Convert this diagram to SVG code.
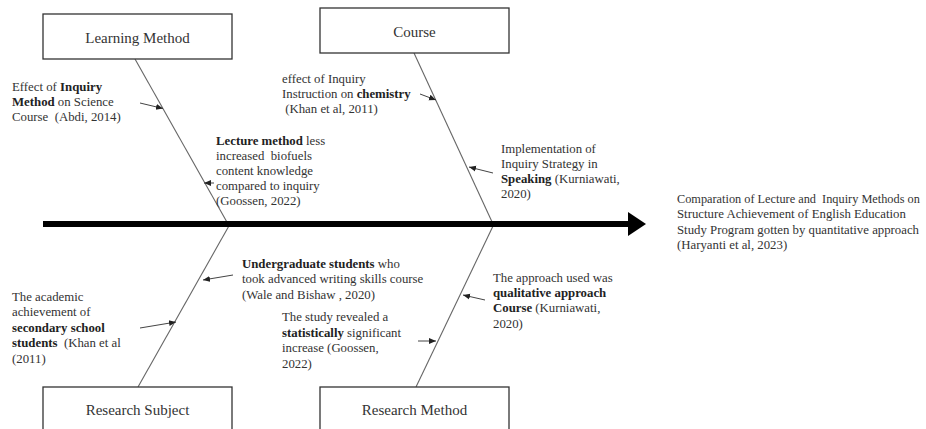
<svg xmlns="http://www.w3.org/2000/svg" width="926" height="429" viewBox="0 0 926 429" font-family="'Liberation Serif', 'DejaVu Serif', serif">
<style>
.box{fill:#fff;stroke:#333;stroke-width:1.3}
.lbl{font-family:'Liberation Serif','DejaVu Serif',serif;font-size:15px;fill:#333;text-anchor:middle}
.t{font-family:'Liberation Serif','DejaVu Serif',serif;font-size:12.8px;fill:#333}
.b{font-weight:bold;fill:#222}
.bone{stroke:#666;stroke-width:1.1;fill:none}
.ar{stroke:#444;stroke-width:1;fill:none;marker-end:url(#ah)}
</style>
<defs>
<marker id="ah" markerUnits="userSpaceOnUse" markerWidth="8" markerHeight="8" refX="7" refY="4" orient="auto">
<path d="M0,1 L7,4 L0,7 Z" fill="#222"/>
</marker>
</defs>
<rect width="926" height="429" fill="#fff"/>
<g id="connectors">
<line class="bone" x1="135" y1="59" x2="228" y2="224"/>
<line class="bone" x1="414" y1="53" x2="493" y2="224"/>
<line class="bone" x1="230" y1="224" x2="138" y2="387"/>
<line class="bone" x1="494" y1="224" x2="416" y2="387"/>
<line x1="43" y1="224" x2="630" y2="224" stroke="#000" stroke-width="6"/>
<polygon points="628,212 646,224 628,236" fill="#000"/>
<line class="ar" x1="140" y1="103" x2="163" y2="108.5"/>
<line class="ar" x1="214" y1="183" x2="204" y2="183"/>
<line class="ar" x1="420" y1="94" x2="436" y2="100"/>
<line class="ar" x1="493" y1="173" x2="469" y2="167"/>
<line class="ar" x1="233" y1="275" x2="203" y2="280"/>
<line class="ar" x1="140" y1="328" x2="176" y2="322"/>
<line class="ar" x1="485" y1="300" x2="463" y2="295"/>
<line class="ar" x1="418" y1="341" x2="436" y2="341"/>
</g>
<g id="learning-method">
<rect class="box" x="43" y="14" width="189" height="45"/>
<text class="lbl" x="137.5" y="43">Learning Method</text>
</g>
<g id="course">
<rect class="box" x="320" y="8" width="189" height="45"/>
<text class="lbl" x="414.5" y="37">Course</text>
</g>
<g id="research-subject">
<rect class="box" x="43" y="387" width="189" height="46"/>
<text class="lbl" x="137.5" y="415">Research Subject</text>
</g>
<g id="research-method">
<rect class="box" x="320" y="387" width="189" height="46"/>
<text class="lbl" x="414.5" y="415">Research Method</text>
</g>
<g id="cause-inquiry-method">
<text class="t" x="12" y="91">Effect of <tspan class="b">Inquiry</tspan></text>
<text class="t" x="12" y="106"><tspan class="b">Method</tspan> on Science</text>
<text class="t" x="12" y="121" xml:space="preserve">Course  (Abdi, 2014)</text>
</g>
<g id="cause-lecture-method">
<text class="t" x="216" y="145"><tspan class="b">Lecture method</tspan> less</text>
<text class="t" x="216" y="160" xml:space="preserve">increased  biofuels</text>
<text class="t" x="216" y="175">content knowledge</text>
<text class="t" x="216" y="190">compared to inquiry</text>
<text class="t" x="216" y="205">(Goossen, 2022)</text>
</g>
<g id="cause-chemistry">
<text class="t" x="282" y="83">effect of Inquiry</text>
<text class="t" x="282" y="98">Instruction on <tspan class="b">chemistry</tspan></text>
<text class="t" x="282" y="113" xml:space="preserve"> (Khan et al, 2011)</text>
</g>
<g id="cause-speaking">
<text class="t" x="501" y="153">Implementation of</text>
<text class="t" x="501" y="168">Inquiry Strategy in</text>
<text class="t" x="501" y="183"><tspan class="b">Speaking</tspan> (Kurniawati,</text>
<text class="t" x="501" y="198">2020)</text>
</g>
<g id="cause-undergraduate">
<text class="t" x="242" y="268"><tspan class="b">Undergraduate students</tspan> who</text>
<text class="t" x="242" y="283">took advanced writing skills course</text>
<text class="t" x="242" y="299">(Wale and Bishaw , 2020)</text>
</g>
<g id="cause-secondary">
<text class="t" x="12" y="301">The academic</text>
<text class="t" x="12" y="316">achievement of</text>
<text class="t" x="12" y="332"><tspan class="b">secondary school</tspan></text>
<text class="t" x="12" y="347" xml:space="preserve"><tspan class="b">students</tspan>  (Khan et al</text>
<text class="t" x="12" y="363">(2011)</text>
</g>
<g id="cause-statistically">
<text class="t" x="282" y="321">The study revealed a</text>
<text class="t" x="282" y="337"><tspan class="b">statistically</tspan> significant</text>
<text class="t" x="282" y="352">increase (Goossen,</text>
<text class="t" x="282" y="368">2022)</text>
</g>
<g id="cause-qualitative">
<text class="t" x="493" y="282">The approach used was</text>
<text class="t" x="493" y="297"><tspan class="b">qualitative approach</tspan></text>
<text class="t" x="493" y="312"><tspan class="b">Course</tspan> (Kurniawati,</text>
<text class="t" x="493" y="328">2020)</text>
</g>
<g id="effect">
<text class="t" x="677" y="203" style="font-size:12.3px" xml:space="preserve">Comparation of Lecture and  Inquiry Methods on</text>
<text class="t" x="677" y="218">Structure Achievement of English Education</text>
<text class="t" x="677" y="234">Study Program gotten by quantitative approach</text>
<text class="t" x="677" y="249">(Haryanti et al, 2023)</text>
</g>
</svg>
